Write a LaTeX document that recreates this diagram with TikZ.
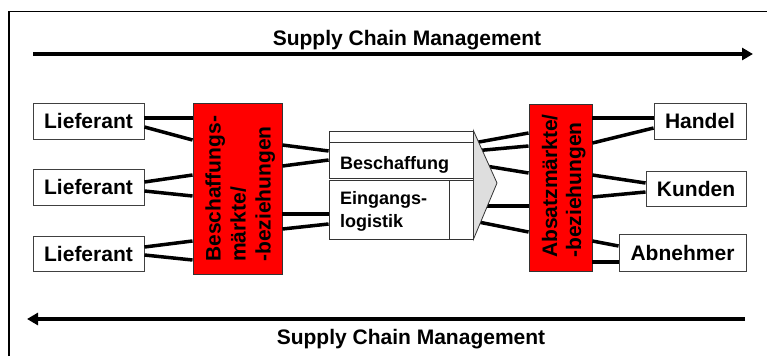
\documentclass[tikz,border=0pt]{standalone}
\usepackage{fontspec}
\setmainfont{Liberation Sans}
\usetikzlibrary{arrows.meta}
\begin{document}
\begin{tikzpicture}[x=1pt,y=-1pt,
  conn/.style={line width=3.5pt},
  sca/.style={line width=3.5pt,-{Triangle[length=11pt,width=12pt]}},
  box/.style={draw=black!75,line width=0.9pt,fill=white,inner sep=0pt,
    font=\fontsize{21}{25}\selectfont\bfseries},
  redbox/.style={draw=black!80,line width=0.9pt,fill=red,inner sep=0pt},
  redtext/.style={inner sep=0pt,rotate=90,anchor=base west},
  mbox/.style={draw=black!80,line width=0.8pt,fill=white,inner sep=0pt},
  mtext/.style={inner sep=0pt,anchor=base west,font=\fontsize{18}{23.5}\selectfont\bfseries},
  titletext/.style={inner sep=0pt,anchor=base,font=\fontsize{21}{25}\selectfont\bfseries}
]
\useasboundingbox (0,0) rectangle (767,356);
% frame
\draw[line width=1.2pt] (9,356) -- (9,11.5) -- (767,11.5);
% top arrow and title
\coordinate (ta) at (33,54);
\coordinate (tb) at (753,54);
\draw[sca] (ta) -- (tb);
\node[titletext] (t1) at (407,45) {Supply Chain Management};
% bottom arrow and title
\coordinate (ba) at (745,319);
\coordinate (bb) at (27,319);
\draw[sca] (ba) -- (bb);
\node[titletext] (t2) at (411,344) {Supply Chain Management};
% left boxes
\node[box,minimum width=111pt,minimum height=36pt] (l1) at (88.5,121) {Lieferant};
\node[box,minimum width=111pt,minimum height=36pt] (l2) at (88.5,187) {Lieferant};
\node[box,minimum width=111pt,minimum height=35pt] (l3) at (88.5,253.5) {Lieferant};
% red boxes
\node[redbox,minimum width=89pt,minimum height=171pt] (rb1) at (237.5,188.5) {};
\node[redtext,font=\fontsize{21}{25}\selectfont\bfseries] (rt1) at (220.5,262)
  {\begin{tabular}[t]{@{}l@{}}Beschaffungs-\\märkte/\\-beziehungen\end{tabular}};
\node[redbox,minimum width=63pt,minimum height=167pt] (rb2) at (560.5,187.5) {};
\node[redtext,font=\fontsize{21}{24}\selectfont\bfseries] (rt2) at (557,258)
  {\begin{tabular}[t]{@{}l@{}}Absatzmärkte/\\-beziehungen\end{tabular}};
% right boxes
\node[box,minimum width=92pt,minimum height=36pt] (h1) at (700,121) {Handel};
\node[box,minimum width=100pt,minimum height=35pt] (k1) at (696,188.5) {Kunden};
\node[box,minimum width=127pt,minimum height=37pt] (a1) at (682.5,252.5) {Abnehmer};
% middle block
\node[mbox,minimum width=144pt,minimum height=11pt] (mt) at (401,136.5) {};
\node[mbox,minimum width=144pt,minimum height=36pt] (mb) at (401,160) {};
\node[mbox,minimum width=120pt,minimum height=59pt] (ml) at (389,209.5) {};
\node[mbox,minimum width=24pt,minimum height=59pt] (ms) at (461,209.5) {};
\node[mtext] (tbs) at (340,169) {Beschaffung};
\node[mtext] (tel) at (340,204) {\begin{tabular}[t]{@{}l@{}}Eingangs-\\logistik\end{tabular}};
% connectors left
\draw[conn] (l1.east|-0,118) -- (rb1.west|-0,118);
\draw[conn] (l1.east|-0,127) -- (rb1.west|-0,140);
\draw[conn] (l2.east|-0,182) -- (rb1.west|-0,175);
\draw[conn] (l2.east|-0,191) -- (rb1.west|-0,196);
\draw[conn] (l3.east|-0,247) -- (rb1.west|-0,241);
\draw[conn] (l3.east|-0,255) -- (rb1.west|-0,260);
\draw[conn] (rb1.east|-0,145) -- (mb.west|-0,151);
\draw[conn] (rb1.east|-0,166) -- (mb.west|-0,160);
\draw[conn] (rb1.east|-0,214) -- (ml.west|-0,214);
\draw[conn] (rb1.east|-0,229) -- (ml.west|-0,224);
% connectors right
\draw[conn] (mb.east|-0,143) -- (rb2.west|-0,133);
\draw[conn] (mb.east|-0,151) -- (rb2.west|-0,146);
\draw[conn] (mb.east|-0,164) -- (rb2.west|-0,173);
\draw[conn] (ms.east|-0,206) -- (rb2.west|-0,206);
\draw[conn] (ms.east|-0,221) -- (rb2.west|-0,232);
\draw[conn] (rb2.east|-0,118) -- (h1.west|-0,118);
\draw[conn] (rb2.east|-0,143) -- (h1.west|-0,128);
\draw[conn] (rb2.east|-0,175) -- (k1.west|-0,183);
\draw[conn] (rb2.east|-0,197) -- (k1.west|-0,192);
\draw[conn] (rb2.east|-0,241) -- (a1.west|-0,246);
\draw[conn] (rb2.east|-0,262) -- (a1.west|-0,262);
% arrow head of middle block
\draw[draw=black!80,line width=0.8pt,fill=black!13,line join=miter]
  (mt.north east) -- (497,183) -- (ms.south east) -- cycle;
\end{tikzpicture}
\end{document}
